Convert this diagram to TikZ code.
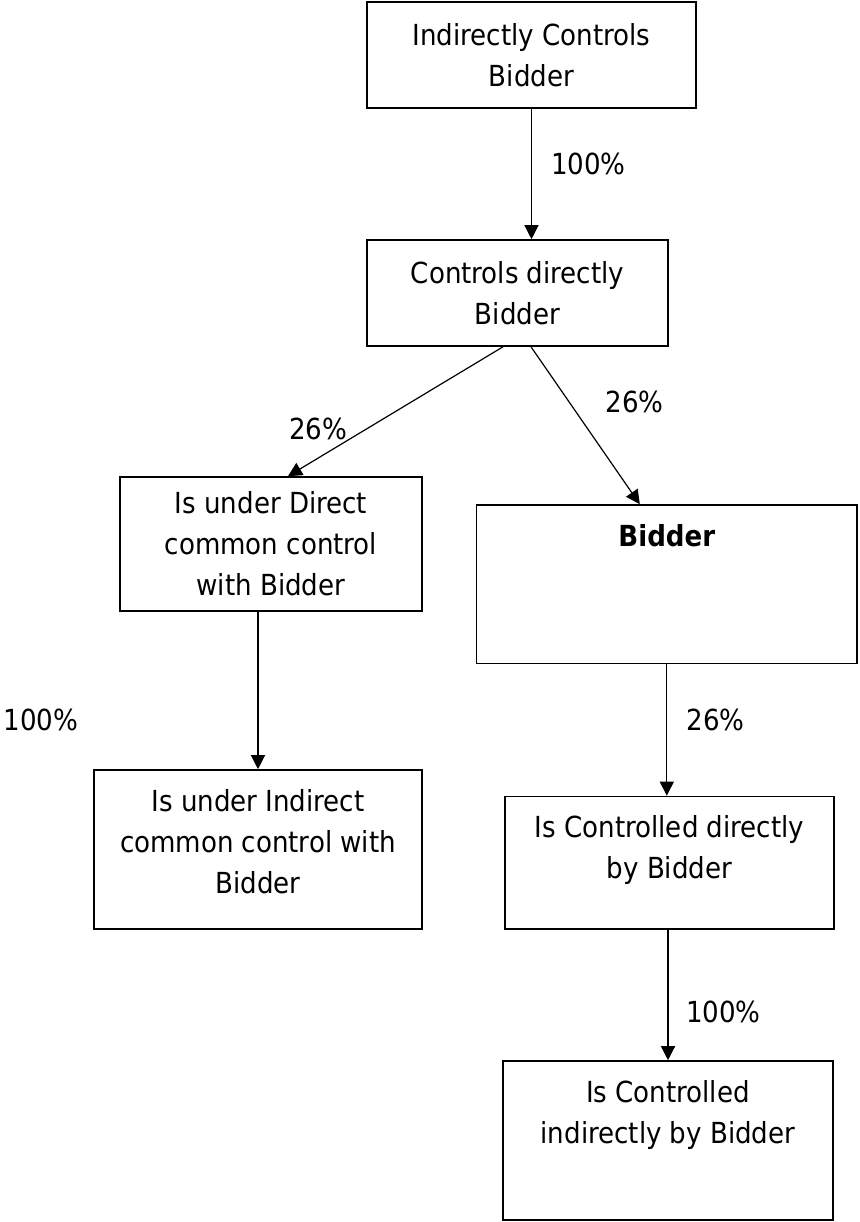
\documentclass[tikz,border=0pt]{standalone}
\usepackage{fontspec}
\setmainfont{DejaVu Sans Condensed}
\usetikzlibrary{arrows.meta,calc}
\tikzset{
  box/.style={draw,line width=0.8pt,align=center,inner sep=0pt,
    font=\fontsize{14.5pt}{20.5pt}\selectfont},
  pct/.style={inner sep=0pt,font=\fontsize{14.5pt}{20.5pt}\selectfont},
  link/.style={-{Triangle[length=7pt,width=7pt]},line width=0.6pt}
}
\begin{document}
\begin{tikzpicture}[x=0.5pt,y=-0.5pt]
  \useasboundingbox (0,0) rectangle (859,1222);

  % boxes
  \node[box,minimum width=164.5pt,minimum height=53pt] (ic) at (531.5,55)
    {Indirectly Controls\\Bidder};
  \node[box,minimum width=150.5pt,minimum height=53pt] (cd) at (517.5,293)
    {Controls directly\\Bidder};
  \node[box,minimum width=150.75pt,minimum height=67pt] (udc) at (271,544)
    {Is under Direct\\common control\\with Bidder};
  \node[box,minimum width=190.2pt,minimum height=79.3pt] (bid) at (666.8,584.3)
    {\textbf{Bidder}\\[28pt]~};
  \node[box,minimum width=164pt,minimum height=79.5pt] (uic) at (258,849.5)
    {Is under Indirect\\common control with\\Bidder\\[-12pt]~};
  \node[box,minimum width=164.5pt,minimum height=66.25pt] (ccd) at (669.5,862.75)
    {Is Controlled directly\\by Bidder\\[-5pt]~};
  \node[box,minimum width=165pt,minimum height=79.5pt] (cci) at (668,1140.5)
    {Is Controlled\\indirectly by Bidder\\[8.5pt]~};

  % shares
  \node[pct] (p1) at (588.5,163.5) {100\%};
  \node[pct] (p2) at (318,428.5) {26\%};
  \node[pct] (p3) at (634.5,401.5) {26\%};
  \node[pct] (p4) at (41,720) {100\%};
  \node[pct] (p5) at (715.5,720) {26\%};
  \node[pct] (p6) at (723.5,1011.5) {100\%};

  \draw[link] (ic.south) -- (ic.south |- cd.north);
  \draw[link] ($(cd.south)+(-14.5,0)$) -- ($(udc.north)+(17,0)$);
  \draw[link] ($(cd.south)+(13.5,0)$) -- ($(bid.north)+(-27,0)$);
  \draw[link] (uic.north |- udc.south) -- (uic.north);
  \draw[link] (bid.south) -- (bid.south |- ccd.north);
  \draw[link] (cci.north |- ccd.south) -- (cci.north);
\end{tikzpicture}
\end{document}
